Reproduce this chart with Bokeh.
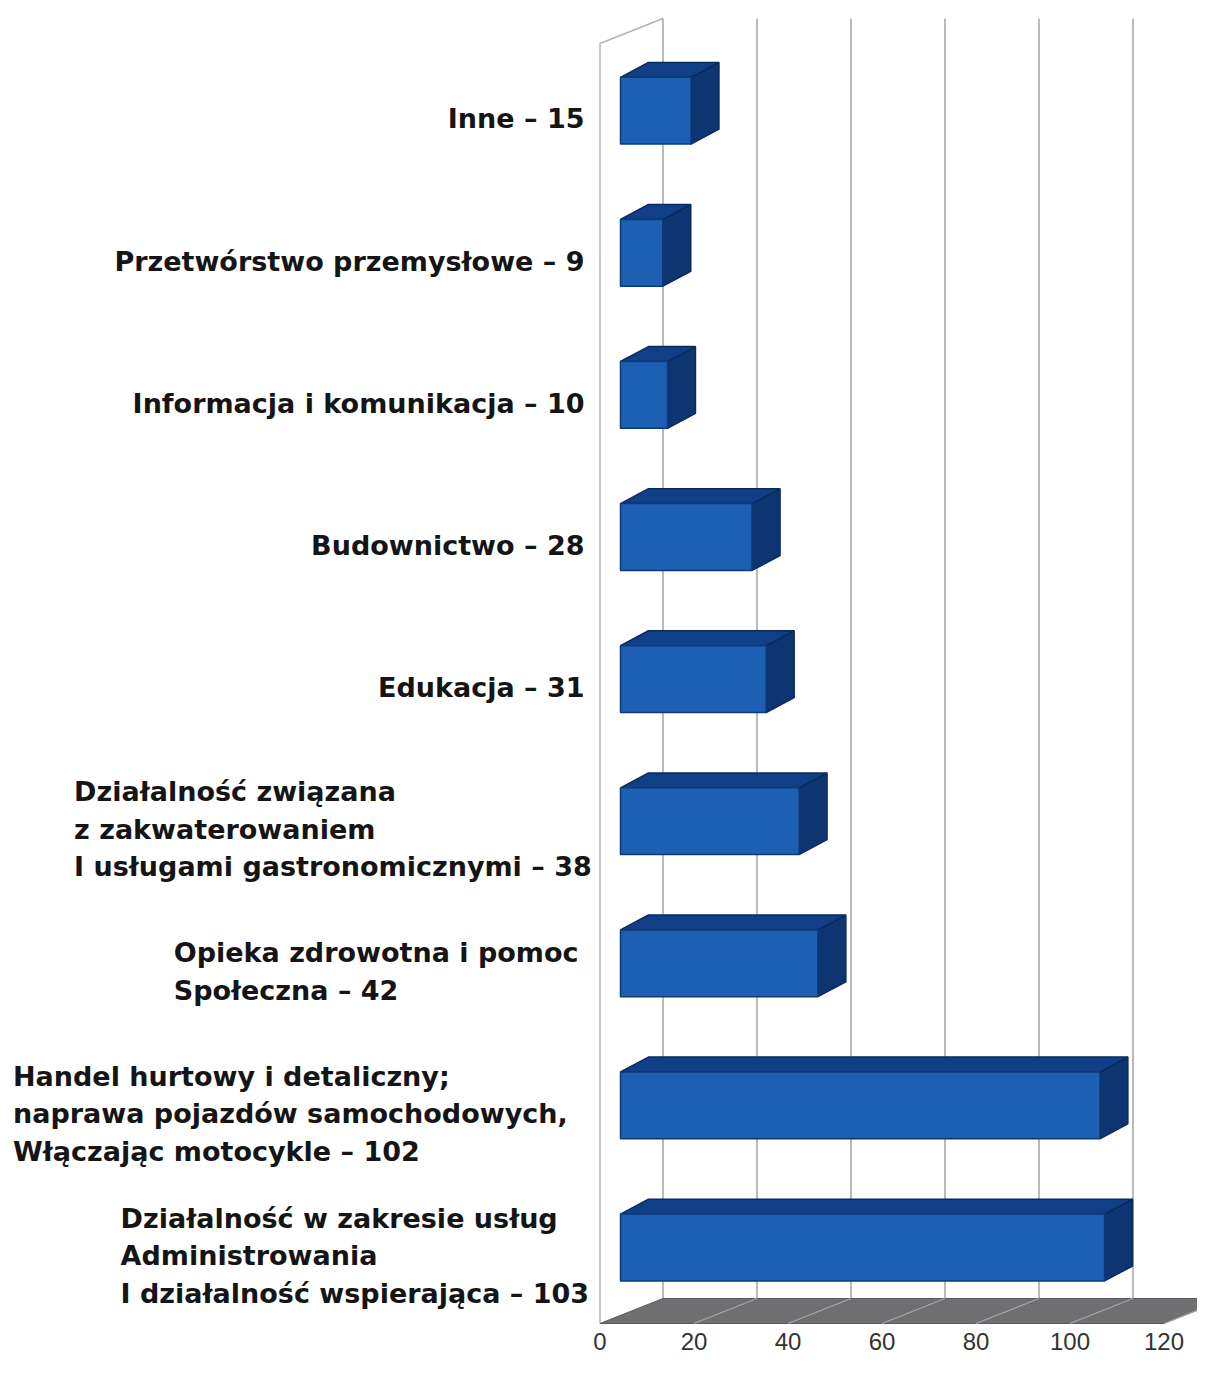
from bokeh.plotting import figure
from bokeh.models import Range1d, ColumnDataSource
from bokeh.embed import file_html
from bokeh.resources import INLINE
from bokeh.core.properties import value

# ---------------- data (bottom to top) ----------------
categories = [
    "Działalność w zakresie usług\nAdministrowania\nI działalność wspierająca – 103",
    "Handel hurtowy i detaliczny;\nnaprawa pojazdów samochodowych,\nWłączając motocykle – 102",
    "Opieka zdrowotna i pomoc\nSpołeczna – 42",
    "Działalność związana\nz zakwaterowaniem\nI usługami gastronomicznymi – 38",
    "Edukacja – 31",
    "Budownictwo – 28",
    "Informacja i komunikacja – 10",
    "Przetwórstwo przemysłowe – 9",
    "Inne – 15",
]
values = [103, 102, 42, 38, 31, 28, 10, 9, 15]
ticks = [0, 20, 40, 60, 80, 100, 120]
tick_labels = ["0", "20", "40", "60", "80", "100", "120"]

# ---------------- layout / 3D projection settings ----------------
W, H = 1197, 1359
PXU = 4.7            # pixels per value unit
X0_PAGE = 599.5      # image x of value 0
PITCH = 142.1        # pixels per category
Y0_PAGE = 1247.0     # image y of first category centre

x_start = (0 - X0_PAGE) / PXU
x_end = (W - X0_PAGE) / PXU
y_end = Y0_PAGE / PITCH
y_start = (Y0_PAGE - H) / PITCH

WDX, WDY = 13.4, 0.176          # wall depth offset
FLOOR_FRONT = -0.535
FLOOR_BACK = FLOOR_FRONT + WDY
WALL_TOP_BACK = 8.649
WALL_TOP_FRONT = WALL_TOP_BACK - WDY

BX0 = 4.36     # bar front plane start
BDX, BDY = 5.95, 0.105
BH = 0.47

LABEL_DY = 0.058
LINE_STEP = 0.264
LABEL_RIGHT = -3.3
multi_left = {0: -102.0, 1: -124.9, 2: -90.7, 3: -111.9}
TICK_Y = (Y0_PAGE - 1341) / PITCH

p = figure(width=W, height=H, x_range=Range1d(x_start, x_end),
           y_range=Range1d(y_start, y_end), output_backend="svg",
           toolbar_location=None, x_axis_location=None, y_axis_location=None,
           min_border=0)
p.grid.visible = False
p.outline_line_color = None
p.background_fill_color = "white"
p.border_fill_color = "white"

# side wall
p.line(x=[0, 0, WDX], y=[FLOOR_FRONT, WALL_TOP_FRONT, WALL_TOP_BACK],
       line_color="#b4b4b4", line_width=1.5)

# back wall gridlines
p.segment(x0=[t + WDX for t in ticks], y0=[FLOOR_BACK] * len(ticks),
          x1=[t + WDX for t in ticks], y1=[WALL_TOP_BACK] * len(ticks),
          line_color="#a3a3a3", line_width=1.5)

# floor
p.patch(x=[0, ticks[-1], ticks[-1] + WDX, WDX],
        y=[FLOOR_FRONT, FLOOR_FRONT, FLOOR_BACK, FLOOR_BACK],
        fill_color="#6f6f72", line_color="#5a5a5d", line_width=1)
p.segment(x0=ticks[1:], y0=[FLOOR_FRONT] * (len(ticks) - 1),
          x1=[t + WDX for t in ticks[1:]], y1=[FLOOR_BACK] * (len(ticks) - 1),
          line_color="#a9a9ad", line_width=1.2)

# bars
fx, fy, tx, ty, sx, sy = [], [], [], [], [], []
for i, v in enumerate(values):
    yb, yt = i - BH / 2, i + BH / 2
    xa, xb = BX0, BX0 + v
    fx.append([xa, xb, xb, xa]); fy.append([yb, yb, yt, yt])
    tx.append([xa, xb, xb + BDX, xa + BDX]); ty.append([yt, yt, yt + BDY, yt + BDY])
    sx.append([xb, xb + BDX, xb + BDX, xb]); sy.append([yb, yb + BDY, yt + BDY, yt])

p.patches(xs=sx, ys=sy, fill_color="#0d3572", line_color="#0a2b5e", line_width=1.5)
p.patches(xs=tx, ys=ty, fill_color="#113f87", line_color="#0a2b5e", line_width=1.5)
p.patches(xs=fx, ys=fy, fill_color="#1d60b3", line_color="#0e3a78", line_width=1.5)

# category labels
lx, ly, lt, la = [], [], [], []
for i, cat in enumerate(categories):
    lines = cat.split("\n")
    n = len(lines)
    for k, line in enumerate(lines):
        ly.append(i - LABEL_DY - (k - (n - 1) / 2) * LINE_STEP)
        lt.append(line)
        if n > 1:
            lx.append(multi_left[i]); la.append("left")
        else:
            lx.append(LABEL_RIGHT); la.append("right")

src = ColumnDataSource(dict(x=lx, y=ly, text=lt, align=la))
p.text(x="x", y="y", text="text", source=src, text_align="align",
       text_baseline="middle", text_font=value("DejaVu Sans"),
       text_font_style="bold", text_font_size="27px", text_color="#151515")

# tick labels
p.text(x=ticks, y=[TICK_Y] * len(ticks), text=tick_labels,
       text_align="center", text_baseline="middle",
       text_font=value("Liberation Sans"), text_font_size="24px",
       text_color="#333333")

open("out.html", "w").write(file_html(p, INLINE))
